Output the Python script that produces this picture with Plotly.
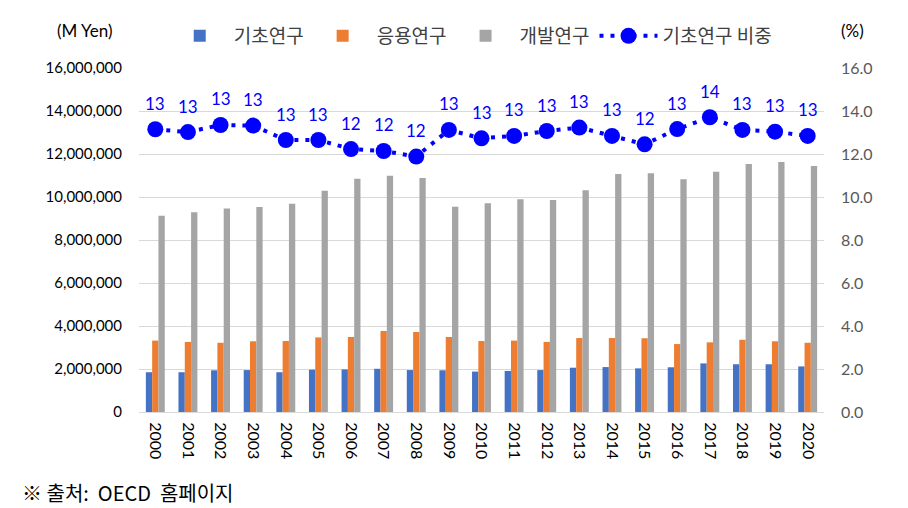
import plotly.graph_objects as go

years = [str(y) for y in range(2000, 2021)]
basic = [1.85, 1.85, 1.94, 1.95, 1.85, 1.97, 1.98, 2.01, 1.95, 1.94,
         1.88, 1.91, 1.95, 2.06, 2.09, 2.03, 2.08, 2.26, 2.22, 2.22, 2.12]
applied = [3.32, 3.26, 3.22, 3.29, 3.30, 3.47, 3.49, 3.77, 3.72, 3.49,
           3.30, 3.32, 3.26, 3.44, 3.44, 3.43, 3.16, 3.24, 3.36, 3.29, 3.22]
development = [9.13, 9.29, 9.47, 9.53, 9.69, 10.29, 10.85, 10.99, 10.88, 9.55,
               9.71, 9.89, 9.86, 10.31, 11.07, 11.10, 10.82, 11.18, 11.53, 11.63, 11.44]
share = [13.15, 13.02, 13.35, 13.32, 12.65, 12.65, 12.23, 12.14, 11.88, 13.12,
         12.73, 12.84, 13.07, 13.23, 12.84, 12.45, 13.16, 13.71, 13.12, 13.04, 12.84]

basic_yen = [v * 1e6 for v in basic]
applied_yen = [v * 1e6 for v in applied]
dev_yen = [v * 1e6 for v in development]
share_labels = [f"{round(v):d}" for v in share]

font_family = "Lato, 'Noto Sans CJK KR', sans-serif"
kr_family = "'Noto Sans CJK KR', sans-serif"

fig = go.Figure()
fig.add_trace(go.Bar(x=years, y=basic_yen, name="기초연구", marker=dict(color="#4472C4", line=dict(width=0))))
fig.add_trace(go.Bar(x=years, y=applied_yen, name="응용연구", marker=dict(color="#ED7D31", line=dict(width=0))))
fig.add_trace(go.Bar(x=years, y=dev_yen, name="개발연구", marker=dict(color="#A5A5A5", line=dict(width=0))))
fig.add_trace(go.Scatter(
    x=years, y=share, name="기초연구 비중", yaxis="y2",
    mode="lines+markers",
    line=dict(color="#0000FF", width=4, dash="4px,7px"),
    marker=dict(color="#0000FF", size=16),
))

# data labels (category index on the x axis)
annotations = [
    dict(x=i, y=v, xref="x", yref="y2", text=lab, showarrow=False,
         yshift=26, yanchor="middle", font=dict(color="#0000FF", size=17, family=font_family))
    for i, (v, lab) in enumerate(zip(share, share_labels))
]
annotations += [
    dict(text="(M Yen)", xref="paper", yref="paper", x=-0.079, y=1.108,
         xanchor="center", yanchor="middle", showarrow=False,
         font=dict(size=17, family=font_family, color="#000000")),
    dict(text="(%)", xref="paper", yref="paper", x=1.041, y=1.108,
         xanchor="center", yanchor="middle", showarrow=False,
         font=dict(size=17, family=font_family, color="#000000")),
    dict(text="※ 출처:  OECD  홈페이지", xref="paper", yref="paper", x=-0.1737, y=-0.233,
         xanchor="left", yanchor="middle", showarrow=False,
         font=dict(size=20, family=kr_family, color="#000000")),
]

fig.update_layout(
    width=908, height=508,
    margin=dict(l=131, r=92, t=60, b=104, autoexpand=False),
    paper_bgcolor="white", plot_bgcolor="white",
    font=dict(family=font_family, size=16, color="#000000"),
    barmode="group", bargap=0.42, bargroupgap=0,
    showlegend=True,
    legend=dict(orientation="h", x=0.485, xanchor="center", y=0.945, yanchor="middle",
                yref="container", font=dict(size=19, color="#404040", family=kr_family),
                itemwidth=58, traceorder="normal"),
    xaxis=dict(type="category", range=[-0.5, 20.5], tickangle=90, showgrid=False, showline=True,
               linecolor="#D9D9D9", linewidth=1, ticks="", automargin=False,
               ticklabelstandoff=6, tickfont=dict(size=16, color="#000000")),
    yaxis=dict(range=[0, 16e6], dtick=2e6, tickformat=",d", showgrid=True,
               gridcolor="#D9D9D9", gridwidth=1, zeroline=False, ticks="", automargin=False,
               ticklabelstandoff=16, tickfont=dict(size=15, color="#000000")),
    yaxis2=dict(range=[0, 16], dtick=2, tickformat=".1f", overlaying="y", side="right",
                showgrid=False, zeroline=False, ticks="", automargin=False,
                ticklabelstandoff=16, tickfont=dict(size=16, color="#595959")),
    annotations=annotations,
)

fig.write_html("out.html")
